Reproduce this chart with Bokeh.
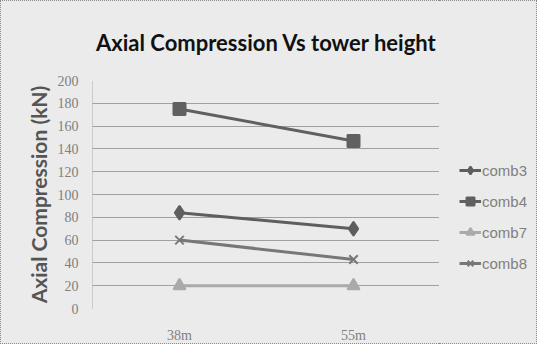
from bokeh.plotting import figure
from bokeh.layouts import row
from bokeh.models import FactorRange, Range1d, Legend, LegendItem, FixedTicker
from bokeh.embed import file_html
from bokeh.resources import INLINE

heights = ["38m", "55m"]
comb3 = [84, 70]
comb4 = [175, 147]
comb7 = [20, 20]
comb8 = [60, 43]
y_ticks = [0, 20, 40, 60, 80, 100, 120, 140, 160, 180, 200]
names = ["comb3", "comb4", "comb7", "comb8"]
values = [comb3, comb4, comb7, comb8]
colors = ["#5e5e5e", "#606060", "#aaaaaa", "#777777"]
markers = ["diamond", "square", "triangle", "x"]
sizes = [14, 12, 12, 12]

BG = "#ebebeb"
BORDER = "1px dotted #8a8a8a"
p = figure(width=439, height=344, x_range=FactorRange(*heights, range_padding=0),
           y_range=Range1d(0, 200), output_backend="svg", toolbar_location=None,
           background_fill_color=BG, border_fill_color=BG,
           min_border_left=91, min_border_right=0, min_border_top=79, min_border_bottom=31)
p.styles = {"border-left": BORDER, "border-top": BORDER, "border-bottom": BORDER}
p.outline_line_color = None

p.title.text = "Axial Compression Vs tower height"
p.title.text_font = "Lato"
p.title.text_font_style = "bold"
p.title.text_font_size = "22px"
p.title.text_color = "#111111"
p.title.align = "center"
p.title.offset = 0
p.title.standoff = 50

p.yaxis.ticker = FixedTicker(ticks=y_ticks)
p.yaxis.axis_label = "Axial Compression (kN)"
p.yaxis.axis_label_text_font = "Lato"
p.yaxis.axis_label_text_font_style = "bold"
p.yaxis.axis_label_text_font_size = "21px"
p.yaxis.axis_label_text_color = "#555555"
p.yaxis.axis_label_standoff = 4
p.yaxis.major_label_text_font = "Liberation Serif"
p.yaxis.major_label_text_font_size = "14px"
p.yaxis.major_label_text_color = "#808080"
p.yaxis.major_label_standoff = 8
p.yaxis.major_tick_line_color = None
p.yaxis.minor_tick_line_color = None
p.yaxis.axis_line_color = "#aaaaaa"
p.yaxis.axis_line_dash = "1 1"

p.xaxis.axis_line_color = None
p.xaxis.major_tick_line_color = None
p.xaxis.major_label_text_font = "Liberation Serif"
p.xaxis.major_label_text_font_size = "14px"
p.xaxis.major_label_text_color = "#808080"
p.xaxis.major_label_standoff = 13

p.xgrid.grid_line_color = None
p.ygrid.grid_line_color = "#555555"
p.ygrid.grid_line_dash = "1 1"
p.ygrid.grid_line_width = 1

# legend panel: a second figure whose glyphs sit outside its visible range
q = figure(width=98, height=344, x_range=FactorRange(*heights, range_padding=0),
           y_range=Range1d(1000, 2000), output_backend="svg", toolbar_location=None,
           background_fill_color=BG, border_fill_color=BG,
           x_axis_type=None, y_axis_type=None,
           min_border_left=0, min_border_right=0, min_border_top=0, min_border_bottom=0)
q.styles = {"border-right": BORDER, "border-top": BORDER, "border-bottom": BORDER}
q.outline_line_color = None
q.grid.grid_line_color = None

items = []
for name, vals, col, mk, sz in zip(names, values, colors, markers, sizes):
    p.line(heights, vals, line_color=col, line_width=3)
    p.scatter(heights, vals, marker=mk, size=sz, fill_color=col, line_color=col, line_width=2)
    l = q.line(heights, vals, line_color=col, line_width=3)
    m = q.scatter(heights, vals, marker=mk, size=sz, fill_color=col, line_color=col, line_width=2)
    items.append(LegendItem(label=name, renderers=[l, m]))

leg = Legend(items=items, location=(20, 35), glyph_width=22, glyph_height=20,
             spacing=11, padding=0, margin=0, label_standoff=1,
             label_text_font="Liberation Sans", label_text_font_size="15px",
             label_text_color="#808080", background_fill_alpha=0, border_line_color=None)
q.add_layout(leg, "center")

layout = row(p, q, spacing=0, styles={"background-color": BG})
open("out.html", "w").write(file_html(layout, INLINE))
